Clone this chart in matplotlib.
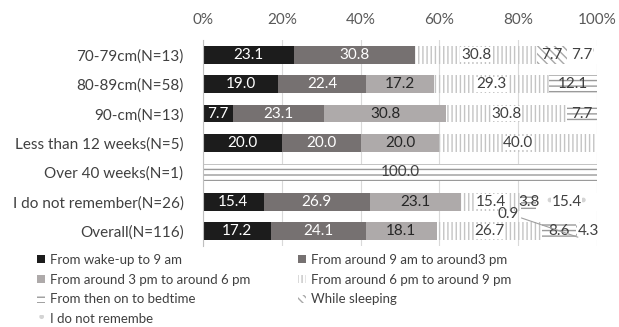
import matplotlib
matplotlib.use("Agg")
import matplotlib.pyplot as plt
import numpy as np

plt.rcParams['font.family'] = ['Lato', 'DejaVu Sans']
plt.rcParams['hatch.linewidth'] = 1.0

categories = ["70-79cm(N=13)", "80-89cm(N=58)", "90-cm(N=13)",
              "Less than 12 weeks(N=5)", "Over 40 weeks(N=1)",
              "I do not remember(N=26)", "Overall(N=116)"]
series_names = ["From wake-up to 9 am", "From around 9 am to around3 pm",
                "From around 3 pm to around 6 pm", "From around 6 pm to around 9 pm",
                "From then on to bedtime", "While sleeping", "I do not remembe"]
wake_9am   = [23.1, 19.0, 7.7, 20.0, 0.0, 15.4, 17.2]
am9_pm3    = [30.8, 22.4, 23.1, 20.0, 0.0, 26.9, 24.1]
pm3_pm6    = [0.0, 17.2, 30.8, 20.0, 0.0, 23.1, 18.1]
pm6_pm9    = [30.8, 29.3, 30.8, 40.0, 0.0, 15.4, 26.7]
bedtime    = [0.0, 12.1, 7.7, 0.0, 100.0, 3.8, 8.6]
sleeping   = [7.7, 0.0, 0.0, 0.0, 0.0, 0.0, 0.9]
not_rem    = [7.7, 0.0, 0.0, 0.0, 0.0, 15.4, 4.3]
series = [wake_9am, am9_pm3, pm3_pm6, pm6_pm9, bedtime, sleeping, not_rem]
xticks = [0, 20, 40, 60, 80, 100]

styles = [
    dict(facecolor='#1c1c1c', hatch=None, edgecolor='#1c1c1c', txt='white', bbox=False),
    dict(facecolor='#767171', hatch=None, edgecolor='#767171', txt='white', bbox=False),
    dict(facecolor='#aeaaaa', hatch=None, edgecolor='#aeaaaa', txt='#262626', bbox=False),
    dict(facecolor='white', hatch='||||', edgecolor='#c4c4c4', txt='#404040', bbox=True),
    dict(facecolor='white', hatch='---', edgecolor='#9a9a9a', txt='#404040', bbox=False),
    dict(facecolor='white', hatch='\\\\\\\\', edgecolor='#a8a8a8', txt='#404040', bbox=False),
    dict(facecolor='white', hatch='.', edgecolor='#d4d4d4', txt='#404040', bbox=True),
]

W, H = 619, 327
fig = plt.figure(figsize=(W/100, H/100), dpi=100)
ax = fig.add_axes([203/W, 1-246/H, 394/W, 206/H])

y = np.arange(len(categories))
left = np.zeros(len(categories))
handles = []
for vals, name, st in zip(series, series_names, styles):
    vals = np.array(vals)
    bars = ax.barh(y, vals, left=left, height=0.6, color=st['facecolor'],
                   hatch=st['hatch'], edgecolor=st['edgecolor'], linewidth=0,
                   label=name, zorder=2)
    handles.append(bars)
    for i, v in enumerate(vals):
        if v <= 0:
            continue
        if name == "While sleeping" and i == 6:
            continue
        cx = left[i] + v/2
        kw = dict(ha='center', va='center', fontsize=11, color=st['txt'], zorder=4)
        if st['bbox']:
            kw['bbox'] = dict(facecolor='white', edgecolor='none', pad=0.3)
        ax.text(cx, y[i], f"{v:.1f}", **kw)
    left = left + vals

# leader-line label for the small "While sleeping" segment in Overall
i = 6
seg_c = left[i] - not_rem[i] - sleeping[i] / 2
ax.annotate(f"{sleeping[i]:.1f}", xy=(seg_c, y[i] + 0.2), xytext=(77.4, y[i] - 0.58),
            ha='center', va='center', fontsize=11, color='#404040',
            arrowprops=dict(arrowstyle='-', color='#a0a0a0', lw=0.8,
                            shrinkA=0, shrinkB=0,
                            relpos=(1.0, 0.3)), zorder=5)

ax.set_xlim(0, 100)
ax.set_ylim(len(categories) - 0.5, -0.5)
ax.set_yticks(y)
ax.set_yticklabels(categories, fontsize=11, color='#404040')
ax.set_xticks(xticks)
ax.set_xticklabels([f"{t}%" for t in xticks], fontsize=11, color='#595959')
ax.xaxis.tick_top()
ax.tick_params(axis='x', length=0, pad=9)
ax.tick_params(axis='y', length=0, pad=14)
ax.grid(axis='x', color='#d9d9d9', linewidth=0.8, zorder=0)
ax.set_axisbelow(True)
for s in ['top', 'right', 'bottom']:
    ax.spines[s].set_visible(False)
ax.spines['left'].set_color('#bfbfbf')
ax.spines['left'].set_linewidth(0.8)

# row-major legend order in two columns
order = [0, 2, 4, 6, 1, 3, 5]
leg = fig.legend(handles=[handles[k] for k in order],
                 labels=[series_names[k] for k in order], ncol=2,
                 loc='upper left', bbox_to_anchor=(30/W, 1-247/H),
                 frameon=False, fontsize=9.5, handlelength=0.6, handleheight=0.6,
                 handletextpad=0.4, columnspacing=3.6, labelspacing=0.6,
                 labelcolor='#404040', borderpad=0)

fig.savefig("out.png", dpi=100)
